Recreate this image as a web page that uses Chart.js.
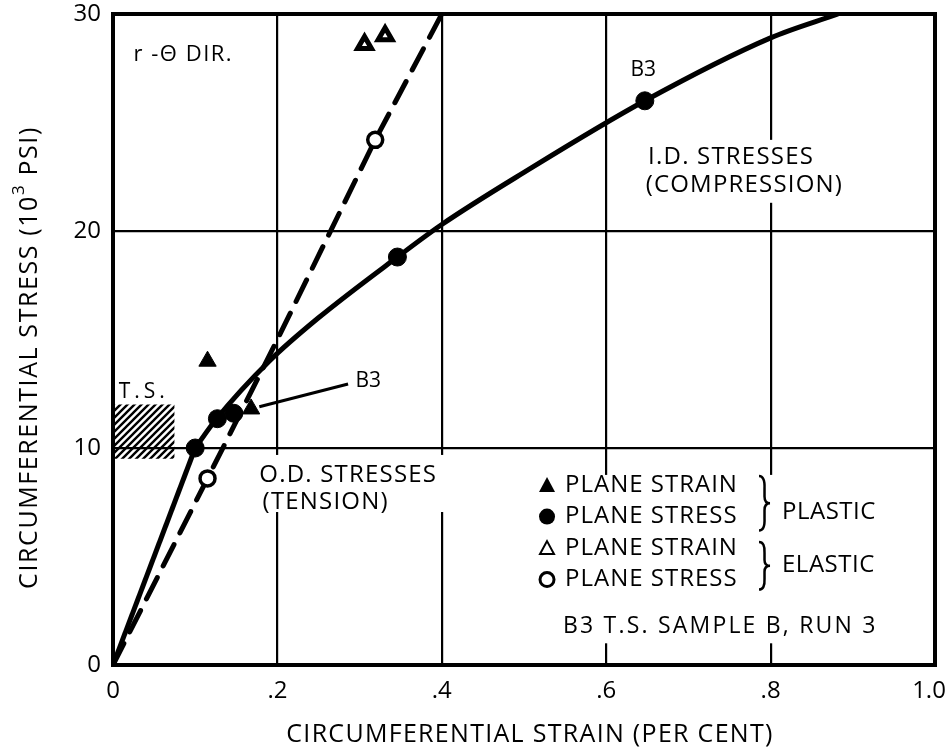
<!DOCTYPE html>
<html>
<head>
<meta charset="utf-8">
<script src="https://cdn.jsdelivr.net/npm/chart.js@4/dist/chart.umd.min.js"></script>
<style>
  html, body { margin: 0; padding: 0; background: #fff; }
  #wrap { width: 950px; height: 751px; }
</style>
</head>
<body>
<div id="wrap"><canvas id="c" width="950" height="751"></canvas></div>
<script>
// Circumferential stress vs. circumferential strain, r-θ direction
// strain in per cent, stress in 10^3 psi

const xTicks = [0, 0.2, 0.4, 0.6, 0.8, 1.0];
const xTickLabels = ['0', '.2', '.4', '.6', '.8', '1.0\u2002'];
const yTicks = [0, 10, 20, 30];
const yTickLabels = ['0', '10', '20', '30'];

// I.D. stresses (compression) - solid curve (straight up to the first yield point)
const idStrain = [0, 0.10, 0.125, 0.19, 0.25, 0.346, 0.40, 0.50, 0.647, 0.80, 0.882];
const idStress = [0, 10.0, 11.3, 14.0, 16.0, 18.8, 20.3, 22.7, 26.0, 28.9, 30.0];

// O.D. stresses (tension) - dashed curve
const odStrain = [0, 0.115, 0.20, 0.319, 0.40];
const odStress = [0, 8.6, 15.0, 24.2, 30.0];

// Plastic, plane strain (filled triangles)
const plStrainX = [0.115, 0.168];
const plStrainY = [14.0, 11.8];
// Plastic, plane stress (filled circles)
const plStressX = [0.10, 0.127, 0.147, 0.346, 0.647];
const plStressY = [10.0, 11.35, 11.6, 18.8, 26.0];
// Elastic, plane strain (open triangles)
const elStrainX = [0.306, 0.331];
const elStrainY = [28.6, 29.0];
// Elastic, plane stress (open circles)
const elStressX = [0.115, 0.319];
const elStressY = [8.6, 24.2];

// T.S. band (tensile strength range)
const tsStrain = [0, 0.075];
const tsStressLow = 9.5;
const tsStressHigh = 12.0;

// B3 leader line
const leaderStrain = [0.178, 0.286];
const leaderStress = [11.9, 12.95];

const FONT = '"Open Sans", Lato, sans-serif';
const pts = (xs, ys) => xs.map((x, i) => ({ x, y: ys[i] }));

const hatch = (() => {
  const c = document.createElement('canvas');
  c.width = 7; c.height = 7;
  const g = c.getContext('2d');
  g.strokeStyle = '#000';
  g.lineWidth = 2.4;
  g.beginPath();
  g.moveTo(-1, 8); g.lineTo(8, -1);
  g.moveTo(-1, 1); g.lineTo(1, -1);
  g.moveTo(6, 8); g.lineTo(8, 6);
  g.stroke();
  return g.createPattern(c, 'repeat');
})();

function text(ctx, s, x, y, size, align, spacing) {
  ctx.font = size + 'px ' + FONT;
  ctx.letterSpacing = (spacing || 0) + 'px';
  ctx.textAlign = align || 'left';
  ctx.textBaseline = 'middle';
  ctx.fillStyle = '#000';
  ctx.fillText(s, x, y);
  ctx.letterSpacing = '0px';
}

function brace(ctx, x, y1, y2, w) {
  const ym = (y1 + y2) / 2, h = (y2 - y1) / 2;
  ctx.beginPath();
  ctx.moveTo(x, y1);
  ctx.quadraticCurveTo(x + w * 0.55, y1, x + w * 0.5, y1 + h * 0.45);
  ctx.lineTo(x + w * 0.5, ym - h * 0.25);
  ctx.quadraticCurveTo(x + w * 0.5, ym, x + w, ym);
  ctx.quadraticCurveTo(x + w * 0.5, ym, x + w * 0.5, ym + h * 0.25);
  ctx.lineTo(x + w * 0.5, y2 - h * 0.45);
  ctx.quadraticCurveTo(x + w * 0.55, y2, x, y2);
  ctx.stroke();
}

// Text notes placed in data units
const notes = [
  { t: 'r -Θ DIR.', x: 0.025, y: 28.1, s: 22, sp: 1.5 },
  { t: 'B3', x: 0.645, y: 27.4, s: 21, a: 'center' },
  { t: 'I.D. STRESSES', x: 0.651, y: 23.4, s: 24, sp: 1.2 },
  { t: '(COMPRESSION)', x: 0.648, y: 22.1, s: 24, sp: 1.2 },
  { t: 'B3', x: 0.295, y: 13.1, s: 21 },
  { t: 'O.D. STRESSES', x: 0.178, y: 8.76, s: 24, sp: 1.2 },
  { t: '(TENSION)', x: 0.182, y: 7.5, s: 24, sp: 1.2 },
  { t: 'T.S.', x: 0.007, y: 12.6, s: 21, sp: 4 }
];

// Areas kept clear of grid lines behind the notes and the key
const clearBoxes = [
  { x0: 0.64, x1: 0.90, y0: 21.3, y1: 24.2 },
  { x0: 0.17, x1: 0.41, y0: 7.05, y1: 9.68 },
  { x0: 0.507, x1: 0.945, y0: 1.0, y1: 8.76 }
];

const decor = {
  id: 'decor',
  beforeDatasetsDraw(chart) {
    const { ctx, chartArea: a, scales: { x, y } } = chart;
    ctx.save();
    ctx.fillStyle = '#fff';
    clearBoxes.forEach(b => {
      const px0 = x.getPixelForValue(b.x0), px1 = x.getPixelForValue(b.x1);
      const py0 = y.getPixelForValue(b.y1), py1 = y.getPixelForValue(b.y0);
      ctx.fillRect(px0, py0, px1 - px0, py1 - py0);
    });
    ctx.strokeStyle = '#000';
    ctx.lineWidth = 4;
    ctx.strokeRect(a.left, a.top, a.right - a.left, a.bottom - a.top);
    ctx.restore();
  },
  afterDatasetsDraw(chart) {
    const { ctx, scales: { x, y } } = chart;
    ctx.save();
    notes.forEach(n => text(ctx, n.t, x.getPixelForValue(n.x), y.getPixelForValue(n.y), n.s, n.a, n.sp));

    // key
    const kx = x.getPixelForValue(0.528);
    const ky = y.getPixelForValue(8.29);
    const step = 31.5;
    const rows = ['PLANE STRAIN', 'PLANE STRESS', 'PLANE STRAIN', 'PLANE STRESS'];
    rows.forEach((r, i) => text(ctx, r, kx + 18, ky + i * step, 24, 'left', 1));
    ctx.fillStyle = '#000';
    ctx.strokeStyle = '#000';
    // filled triangle
    let cy = ky;
    ctx.beginPath();
    ctx.moveTo(kx, cy - 8); ctx.lineTo(kx + 8, cy + 7); ctx.lineTo(kx - 8, cy + 7); ctx.closePath(); ctx.fill();
    // filled circle
    cy = ky + step;
    ctx.beginPath(); ctx.arc(kx, cy, 8, 0, Math.PI * 2); ctx.fill();
    // open triangle
    cy = ky + 2 * step;
    ctx.lineWidth = 2;
    ctx.beginPath();
    ctx.moveTo(kx, cy - 7); ctx.lineTo(kx + 7, cy + 6); ctx.lineTo(kx - 7, cy + 6); ctx.closePath(); ctx.stroke();
    // open circle
    cy = ky + 3 * step;
    ctx.lineWidth = 3;
    ctx.beginPath(); ctx.arc(kx, cy, 7, 0, Math.PI * 2); ctx.stroke();

    ctx.lineWidth = 2.5;
    brace(ctx, kx + 212, ky - 9, ky + step + 14, 11);
    brace(ctx, kx + 212, ky + 2 * step - 6, ky + 3 * step + 10, 11);
    text(ctx, 'PLASTIC', kx + 235, ky + step / 2 + 11, 24, 'left', 0.5);
    text(ctx, 'ELASTIC', kx + 235, ky + 2.5 * step + 1, 24, 'left', 0.5);
    text(ctx, 'B3 T.S. SAMPLE B, RUN 3', kx + 16, ky + 4.5 * step, 23, 'left', 2.2);
    ctx.restore();
  },
  afterDraw(chart) {
    const { ctx, chartArea: a } = chart;
    ctx.save();
    // x title
    text(ctx, 'CIRCUMFERENTIAL STRAIN (PER CENT)', (a.left + a.right) / 2 + 6, 735, 25, 'center', 1.3);
    // y title with superscript
    ctx.translate(30, (a.top + a.bottom) / 2 + 18);
    ctx.rotate(-Math.PI / 2);
    const p1 = 'CIRCUMFERENTIAL STRESS (10', p2 = '3', p3 = ' PSI)';
    ctx.font = '25px ' + FONT;
    ctx.letterSpacing = '1.6px';
    const w1 = ctx.measureText(p1).width, w3 = ctx.measureText(p3).width;
    ctx.font = '17px ' + FONT;
    const w2 = ctx.measureText(p2).width;
    ctx.letterSpacing = '0px';
    const sx = -(w1 + w2 + w3) / 2;
    text(ctx, p1, sx, 0, 25, 'left', 1.6);
    text(ctx, p2, sx + w1, -11, 17, 'left', 1.6);
    text(ctx, p3, sx + w1 + w2, 0, 25, 'left', 1.6);
    ctx.restore();
  }
};

const lineDs = (label, data, extra) => Object.assign({
  label, data, showLine: true, borderColor: '#000', backgroundColor: '#000',
  pointRadius: 0, fill: false
}, extra);

const markDs = (label, data, extra) => Object.assign({
  label, data, showLine: false, borderColor: '#000', order: 0
}, extra);

const idPts = pts(idStrain, idStress);

new Chart(document.getElementById('c'), {
  type: 'line',
  data: {
    datasets: [
      markDs('Plastic, plane strain', pts(plStrainX, plStrainY),
        { pointStyle: 'triangle', pointRadius: 10, backgroundColor: '#000', borderWidth: 1 }),
      markDs('Plastic, plane stress', pts(plStressX, plStressY),
        { pointStyle: 'circle', pointRadius: 9, backgroundColor: '#000', borderWidth: 1 }),
      markDs('Elastic, plane strain', pts(elStrainX, elStrainY),
        { pointStyle: 'triangle', pointRadius: 8, backgroundColor: '#fff', borderWidth: 5 }),
      markDs('Elastic, plane stress', pts(elStressX, elStressY),
        { pointStyle: 'circle', pointRadius: 7.5, backgroundColor: '#fff', borderWidth: 3.5 }),
      lineDs('I.D. stresses, elastic part', idPts.slice(0, 2),
        { borderWidth: 5, order: 2 }),
      lineDs('I.D. stresses (compression)', idPts.slice(1),
        { borderWidth: 5, cubicInterpolationMode: 'monotone', order: 2 }),
      lineDs('O.D. stresses (tension)', pts(odStrain, odStress),
        { borderWidth: 5, borderDash: [24, 13], borderCapStyle: 'round', order: 2 }),
      lineDs('B3 leader', pts(leaderStrain, leaderStress),
        { borderWidth: 3, order: 3 }),
      lineDs('T.S.', pts(tsStrain, [tsStressHigh, tsStressHigh]),
        { borderWidth: 0, fill: { value: tsStressLow }, backgroundColor: hatch, order: 5 })
    ]
  },
  options: {
    responsive: false,
    animation: false,
    devicePixelRatio: 1,
    layout: { padding: { top: 14, right: 15, left: 0, bottom: 0 } },
    plugins: { legend: { display: false }, tooltip: { enabled: false } },
    scales: {
      x: {
        type: 'linear', min: 0, max: 1,
        afterBuildTicks: s => { s.ticks = xTicks.map(v => ({ value: v })); },
        afterFit: s => { s.height = 86; s.paddingLeft = 0; s.paddingRight = 0; },
        grid: { color: '#000', lineWidth: 2.2, drawTicks: false },
        border: { display: false },
        ticks: {
          padding: 12, color: '#000', font: { family: FONT, size: 24 },
          maxRotation: 0, autoSkip: false,
          callback: v => xTickLabels[xTicks.indexOf(v)]
        }
      },
      y: {
        type: 'linear', min: 0, max: 30,
        afterBuildTicks: s => { s.ticks = yTicks.map(v => ({ value: v })); },
        afterFit: s => { s.width = 113; s.paddingTop = 0; s.paddingBottom = 0; },
        grid: { color: '#000', lineWidth: 2.2, drawTicks: false },
        border: { display: false },
        ticks: {
          padding: 12, color: '#000', font: { family: FONT, size: 24 },
          callback: v => yTickLabels[yTicks.indexOf(v)]
        }
      }
    }
  },
  plugins: [decor]
});
</script>
</body>
</html>
